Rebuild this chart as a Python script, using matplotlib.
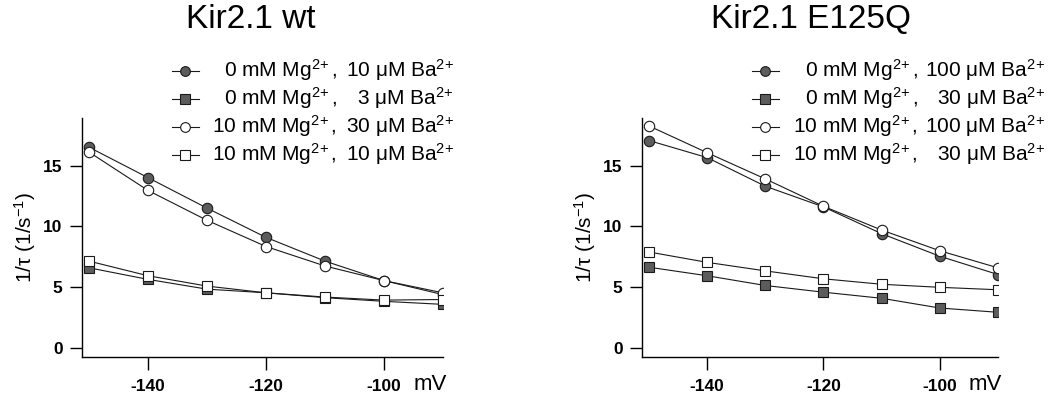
import matplotlib
matplotlib.use("Agg")
import matplotlib.pyplot as plt
from matplotlib.lines import Line2D

plt.rcParams["font.family"] = ["Liberation Sans", "DejaVu Sans"]
plt.rcParams["mathtext.fontset"] = "custom"
plt.rcParams["mathtext.rm"] = "Liberation Sans"
plt.rcParams["mathtext.it"] = "Liberation Sans:italic"
plt.rcParams["mathtext.default"] = "rm"
plt.rcParams["axes.unicode_minus"] = False

# membrane potential (mV)
voltage = [-150, -140, -130, -120, -110, -100, -90]

# Kir2.1 wild type, 1/tau (1/s)
wt_mg0_ba10 = [16.5, 14.0, 11.5, 9.1, 7.15, 5.55, 4.4]
wt_mg0_ba3 = [6.6, 5.65, 4.85, 4.55, 4.15, 3.85, 3.6]
wt_mg10_ba30 = [16.1, 12.95, 10.5, 8.35, 6.75, 5.55, 4.55]
wt_mg10_ba10 = [7.15, 5.95, 5.1, 4.55, 4.2, 3.95, 4.0]

# Kir2.1 E125Q, 1/tau (1/s)
mut_mg0_ba100 = [17.05, 15.65, 13.3, 11.6, 9.4, 7.55, 6.05]
mut_mg0_ba30 = [6.65, 5.95, 5.15, 4.6, 4.1, 3.3, 2.95]
mut_mg10_ba100 = [18.25, 16.05, 13.9, 11.65, 9.7, 8.0, 6.6]
mut_mg10_ba30 = [7.9, 7.05, 6.35, 5.7, 5.25, 5.0, 4.8]

ION = "$^{2\\!+}$"
wt_mg_labels = ["0 mM Mg" + ION + ",", "0 mM Mg" + ION + ",",
                "10 mM Mg" + ION + ",", "10 mM Mg" + ION + ","]
wt_ba_labels = ["10 \u03bcM Ba" + ION, "3 \u03bcM Ba" + ION,
                "30 \u03bcM Ba" + ION, "10 \u03bcM Ba" + ION]
mut_mg_labels = wt_mg_labels
mut_ba_labels = ["100 \u03bcM Ba" + ION, "30 \u03bcM Ba" + ION,
                 "100 \u03bcM Ba" + ION, "30 \u03bcM Ba" + ION]

W, H = 1051, 401
GRAY = "#5c5c5c"
EDGE = "#1a1a1a"

styles = [
    dict(marker="o", mfc=GRAY, mec=EDGE),
    dict(marker="s", mfc=GRAY, mec=EDGE),
    dict(marker="o", mfc="white", mec=EDGE),
    dict(marker="s", mfc="white", mec=EDGE),
]


def fx(x):
    return x / W


def fy(y):
    return 1 - y / H


fig = plt.figure(figsize=(W / 100, H / 100), dpi=100)


def panel(left, right, title, title_x, series, mg_labels, ba_labels,
          leg_x, mg_right, ba_right):
    ax = fig.add_axes([fx(left), fy(357), fx(right - left), fy(118) - fy(357)])
    for vals, st in zip(series, styles):
        ax.plot(voltage, vals, color=EDGE, lw=0.8, ms=7.5, mew=0.8, **st)
    ax.set_xlim(-151.2, -90)
    ax.set_ylim(-0.72, 18.9)
    ax.set_xticks([-140, -120, -100])
    ax.set_yticks([0, 5, 10, 15])
    for s in ["top", "right"]:
        ax.spines[s].set_visible(False)
    for s in ["left", "bottom"]:
        ax.spines[s].set_linewidth(1.0)
    ax.tick_params(direction="out", length=9, width=1.0, labelsize=12.5)
    ax.tick_params(axis="x", pad=7)
    ax.tick_params(axis="y", pad=5)
    for lab in ax.get_xticklabels() + ax.get_yticklabels():
        lab.set_fontweight("bold")

    fig.text(fx(right - 13), fy(384), "mV", fontsize=16, ha="center", va="center")
    fig.text(fx(left - 57), fy(237), "1/\u03c4 (1/s$^{-1}$)", fontsize=15,
             rotation=90, ha="center", va="center")
    fig.text(fx(title_x), fy(20), title, fontsize=24, ha="center", va="center")

    # hand-built legend: marker stub plus two right-aligned text columns
    rows = [71, 99, 127, 155]
    for y, st, mg, ba in zip(rows, styles, mg_labels, ba_labels):
        fig.add_artist(Line2D([fx(leg_x - 13), fx(leg_x + 14)], [fy(y), fy(y)],
                              color=EDGE, lw=0.8))
        fig.add_artist(Line2D([fx(leg_x)], [fy(y)], ms=7, mew=0.8, ls="none", **st))
        fig.text(fx(mg_right), fy(y + 6), mg, fontsize=15, ha="right", va="baseline")
        fig.text(fx(ba_right), fy(y + 6), ba, fontsize=15, ha="right", va="baseline")
    return ax


panel(82, 443, "Kir2.1 wt", 251,
      [wt_mg0_ba10, wt_mg0_ba3, wt_mg10_ba30, wt_mg10_ba10],
      wt_mg_labels, wt_ba_labels, 185, 337, 454)
panel(642, 998, "Kir2.1 E125Q", 811,
      [mut_mg0_ba100, mut_mg0_ba30, mut_mg10_ba100, mut_mg10_ba30],
      mut_mg_labels, mut_ba_labels, 765, 918, 1045)

fig.savefig("out.png", dpi=100)
